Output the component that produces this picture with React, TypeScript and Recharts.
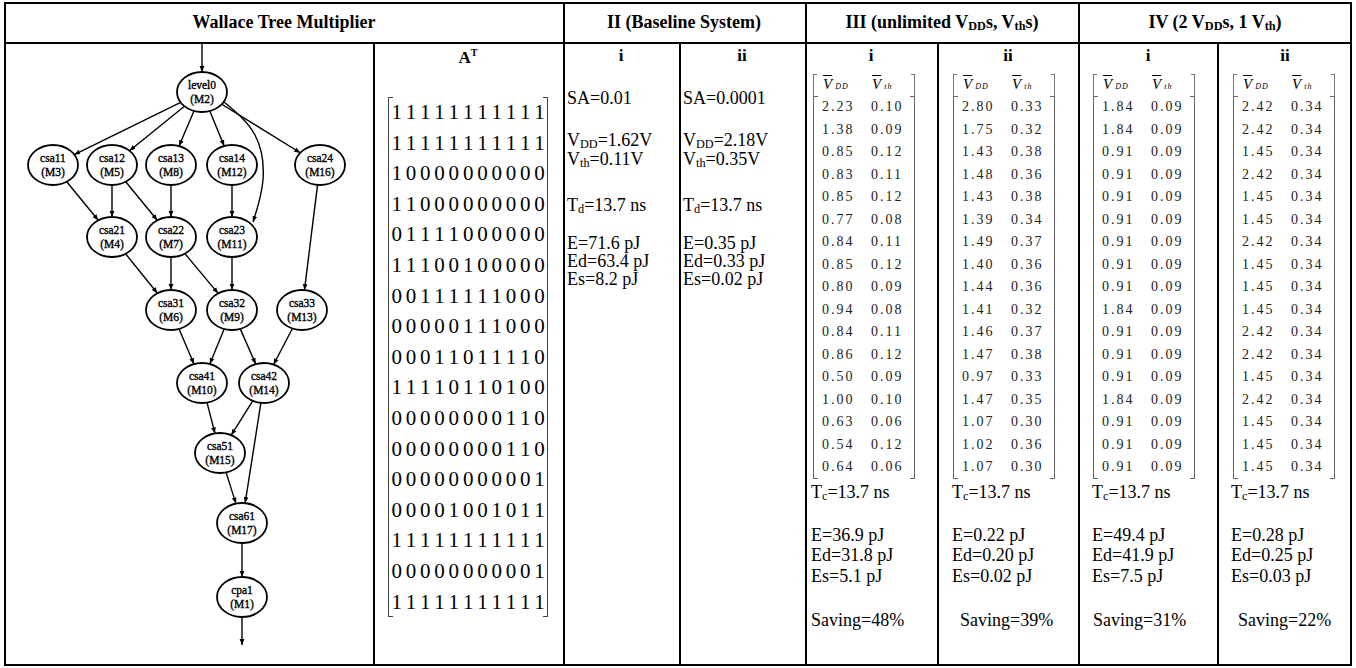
import React from "react";
import { ComposedChart, Line, Scatter, XAxis, YAxis } from "recharts";

// Wallace tree nodes (page coordinates of the tree cell)
const nodeNames = ["level0", "csa11", "csa12", "csa13", "csa14", "csa24", "csa21", "csa22", "csa23", "csa31", "csa32", "csa33", "csa41", "csa42", "csa51", "csa61", "cpa1"];
const nodeTags = ["M2", "M3", "M5", "M8", "M12", "M16", "M4", "M7", "M11", "M6", "M9", "M13", "M10", "M14", "M15", "M17", "M1"];
const nodeX = [202, 53, 112, 171, 232, 320, 112, 171, 232, 171, 232, 302, 202, 264, 220, 242, 242];
const nodeY = [92, 165, 165, 165, 165, 165, 237, 237, 237, 310, 310, 310, 383, 383, 453, 523, 597];

const edgeFrom = ["level0", "level0", "level0", "level0", "level0", "csa11", "csa12", "csa12", "csa13", "csa14", "csa24", "csa21", "csa22", "csa22", "csa23", "csa31", "csa32", "csa32", "csa33", "csa41", "csa42", "csa42", "csa51", "csa61"];
const edgeTo = ["csa11", "csa12", "csa13", "csa14", "csa24", "csa21", "csa21", "csa22", "csa22", "csa23", "csa33", "csa31", "csa31", "csa32", "csa32", "csa41", "csa41", "csa42", "csa42", "csa51", "csa51", "csa61", "csa61", "cpa1"];

// level0 -> csa23 bends out to the right
const bendX = [224, 255, 263, 253];
const bendY = [102, 135, 180, 222];

const inArrowY = [43, 72];
const outArrowY = [617, 645];

const aTransposeRows = [
  "11111111111",
  "11111111111",
  "10000000000",
  "11000000000",
  "01111000000",
  "11100100000",
  "00111111000",
  "00000111000",
  "00011011110",
  "11110110100",
  "00000000110",
  "00000000110",
  "00000000001",
  "00001001011",
  "11111111111",
  "00000000001",
  "11111111111",
];

const vddIIIi = ["2.23", "1.38", "0.85", "0.83", "0.85", "0.77", "0.84", "0.85", "0.80", "0.94", "0.84", "0.86", "0.50", "1.00", "0.63", "0.54", "0.64"];
const vthIIIi = ["0.10", "0.09", "0.12", "0.11", "0.12", "0.08", "0.11", "0.12", "0.09", "0.08", "0.11", "0.12", "0.09", "0.10", "0.06", "0.12", "0.06"];
const vddIIIii = ["2.80", "1.75", "1.43", "1.48", "1.43", "1.39", "1.49", "1.40", "1.44", "1.41", "1.46", "1.47", "0.97", "1.47", "1.07", "1.02", "1.07"];
const vthIIIii = ["0.33", "0.32", "0.38", "0.36", "0.38", "0.34", "0.37", "0.36", "0.36", "0.32", "0.37", "0.38", "0.33", "0.35", "0.30", "0.36", "0.30"];
const vddIVi = ["1.84", "1.84", "0.91", "0.91", "0.91", "0.91", "0.91", "0.91", "0.91", "1.84", "0.91", "0.91", "0.91", "1.84", "0.91", "0.91", "0.91"];
const vthIVi = ["0.09", "0.09", "0.09", "0.09", "0.09", "0.09", "0.09", "0.09", "0.09", "0.09", "0.09", "0.09", "0.09", "0.09", "0.09", "0.09", "0.09"];
const vddIVii = ["2.42", "2.42", "1.45", "2.42", "1.45", "1.45", "2.42", "1.45", "1.45", "1.45", "2.42", "2.42", "1.45", "2.42", "1.45", "1.45", "1.45"];
const vthIVii = ["0.34", "0.34", "0.34", "0.34", "0.34", "0.34", "0.34", "0.34", "0.34", "0.34", "0.34", "0.34", "0.34", "0.34", "0.34", "0.34", "0.34"];

const tcValue = "13.7 ns";
const energyIII = [["36.9", "31.8", "5.1"], ["0.22", "0.20", "0.02"]];
const energyIV = [["49.4", "41.9", "7.5"], ["0.28", "0.25", "0.03"]];
const savings = ["48%", "39%", "31%", "22%"];

const RX = 25;
const RY = 20;
const FONT = '"Liberation Serif", "Times New Roman", serif';
const BODY = 18;

const nodes = nodeNames.map((name, i) => ({ name, tag: nodeTags[i], x: nodeX[i], y: nodeY[i] }));
const byName = (n: string) => nodes[nodeNames.indexOf(n)];

function clipEllipse(ax: number, ay: number, bx: number, by: number) {
  const dx = bx - ax;
  const dy = by - ay;
  const t = 1 / Math.sqrt((dx / RX) ** 2 + (dy / RY) ** 2);
  return { x: ax + dx * t, y: ay + dy * t };
}

const edges = edgeFrom.map((f, i) => {
  const a = byName(f);
  const b = byName(edgeTo[i]);
  return [clipEllipse(a.x, a.y, b.x, b.y), clipEllipse(b.x, b.y, a.x, a.y)];
});
const bendEdge = bendX.map((x, i) => ({ x, y: bendY[i] }));
const inEdge = inArrowY.map((y) => ({ x: byName("level0").x, y }));
const outEdge = outArrowY.map((y) => ({ x: byName("cpa1").x, y }));

const NodeShape = (props: any) => {
  const { cx, cy, payload } = props;
  return (
    <g>
      <ellipse cx={cx} cy={cy} rx={RX} ry={RY} fill="#fff" stroke="#000" strokeWidth={1.8} />
      <text x={cx} y={cy - 3} textAnchor="middle" fontSize={11.5} fontFamily={FONT} fill="#000" stroke="#000" strokeWidth={0.35}>
        {payload.name}
      </text>
      <text x={cx} y={cy + 11} textAnchor="middle" fontSize={11.5} fontFamily={FONT} fill="#000" stroke="#000" strokeWidth={0.35}>
        ({payload.tag})
      </text>
    </g>
  );
};

function WallaceTree() {
  const lineProps = {
    dataKey: "y",
    stroke: "#000",
    strokeWidth: 1.4,
    dot: false,
    activeDot: false,
    isAnimationActive: false,
    markerEnd: "url(#arrowHead)",
  };
  return (
    <div style={{ position: "absolute", left: 5, top: 43 }}>
      <ComposedChart width={368} height={623} margin={{ top: 0, right: 0, bottom: 0, left: 0 }}>
        <XAxis type="number" dataKey="x" domain={[5, 373]} hide allowDataOverflow />
        <YAxis type="number" domain={[43, 666]} reversed hide allowDataOverflow />
        {edges.map((e, i) => (
          <Line key={i} data={e} type="linear" {...lineProps} />
        ))}
        <Line data={bendEdge} type="natural" {...lineProps} />
        <Line data={inEdge} type="linear" {...lineProps} />
        <Line data={outEdge} type="linear" {...lineProps} />
        <Scatter data={nodes} dataKey="y" shape={NodeShape} isAnimationActive={false} />
      </ComposedChart>
    </div>
  );
}

function Txt({ x, y, size = BODY, bold = false, children, center, width }: any) {
  return (
    <div
      style={{
        position: "absolute",
        left: center ? x - width / 2 : x,
        width: center ? width : undefined,
        top: y - size * 0.5,
        lineHeight: `${size}px`,
        fontSize: size,
        fontWeight: bold ? "bold" : "normal",
        textAlign: center ? "center" : "left",
        whiteSpace: "nowrap",
      }}
    >
      {children}
    </div>
  );
}

const Sub = ({ children }: any) => (
  <sub style={{ fontSize: "0.68em", verticalAlign: "-0.2em", lineHeight: 0 }}>{children}</sub>
);

function Bracket({ x, y, w, h, color = "#555", tick = 5, lw = 1.5 }: any) {
  const side = { position: "absolute" as const, top: y, height: h, width: tick, borderTop: `${lw}px solid ${color}`, borderBottom: `${lw}px solid ${color}`, boxSizing: "border-box" as const };
  return (
    <>
      <div style={{ ...side, left: x, borderLeft: `${lw}px solid ${color}` }} />
      <div style={{ ...side, left: x + w - tick, borderRight: `${lw}px solid ${color}` }} />
    </>
  );
}

function VMatrix({ x, vdd, vth }: any) {
  const rowTop = 107;
  const pitch = 22.5;
  const cell = { position: "absolute" as const, fontSize: 14, letterSpacing: 2, color: "#222", lineHeight: "18px" };
  return (
    <>
      <Bracket x={x} y={74} w={102} h={23} color="#777" tick={4} />
      <div style={{ position: "absolute", left: x + 10, top: 76, fontSize: 15, fontStyle: "italic" }}>
        <span style={{ textDecoration: "overline" }}>V</span>
        <span style={{ fontSize: 8, letterSpacing: 1, marginLeft: 3 }}>DD</span>
      </div>
      <div style={{ position: "absolute", left: x + 59, top: 76, fontSize: 15, fontStyle: "italic" }}>
        <span style={{ textDecoration: "overline" }}>V</span>
        <span style={{ fontSize: 8, letterSpacing: 1, marginLeft: 3 }}>th</span>
      </div>
      <Bracket x={x} y={rowTop - 11} w={102} h={pitch * 16 + 23} color="#666" tick={5} />
      {vdd.map((v: string, i: number) => (
        <React.Fragment key={i}>
          <div style={{ ...cell, left: x + 9, top: rowTop + i * pitch - 9 }}>{v}</div>
          <div style={{ ...cell, left: x + 58, top: rowTop + i * pitch - 9 }}>{vth[i]}</div>
        </React.Fragment>
      ))}
    </>
  );
}

function Results({ x, sx, e, saving }: any) {
  return (
    <>
      <Txt x={x} y={492}>T<Sub>c</Sub>={tcValue}</Txt>
      <Txt x={x} y={535}>E={e[0]} pJ</Txt>
      <Txt x={x} y={555}>Ed={e[1]} pJ</Txt>
      <Txt x={x} y={576}>Es={e[2]} pJ</Txt>
      <Txt x={sx} y={620}>Saving={saving}</Txt>
    </>
  );
}

const Rule = ({ x, y, w, h }: any) => (
  <div style={{ position: "absolute", left: x, top: y, width: w, height: h, background: "#000" }} />
);

export default function App() {
  const top = 2;
  const bottom = 666;
  const hdr = 42;
  const left = 4;
  const right = 1352;
  const fullV = [563, 805, 1078];
  const bodyV = [373, 679, 937, 1217];
  return (
    <div
      style={{
        position: "absolute",
        left: 0,
        top: 0,
        width: 1356,
        height: 668,
        background: "#fff",
        fontFamily: FONT,
        color: "#000",
        overflow: "hidden",
      }}
    >
      <svg width={0} height={0} style={{ position: "absolute" }}>
        <defs>
          <marker id="arrowHead" viewBox="0 0 10 10" refX={10} refY={5} markerWidth={6} markerHeight={6} markerUnits="userSpaceOnUse" orient="auto">
            <path d="M0,1 L10,5 L0,9 z" fill="#000" />
          </marker>
        </defs>
      </svg>

      <Rule x={left} y={top} w={right - left} h={2} />
      <Rule x={left} y={hdr} w={right - left} h={2} />
      <Rule x={left} y={bottom - 2} w={right - left} h={2} />
      <Rule x={left} y={top} w={2} h={bottom - top} />
      <Rule x={right - 2} y={top} w={2} h={bottom - top} />
      {fullV.map((x) => <Rule key={x} x={x} y={top} w={2} h={bottom - top} />)}
      {bodyV.map((x) => <Rule key={x} x={x} y={hdr} w={2} h={bottom - hdr} />)}

      <Txt x={284} y={22} size={18} bold center width={500}>Wallace Tree Multiplier</Txt>
      <Txt x={684} y={22} size={18} bold center width={240}>II (Baseline System)</Txt>
      <Txt x={942} y={22} size={18} bold center width={270}>III (unlimited V<Sub>DD</Sub>s, V<Sub>th</Sub>s)</Txt>
      <Txt x={1215} y={22} size={18} bold center width={270}>IV (2 V<Sub>DD</Sub>s, 1 V<Sub>th</Sub>)</Txt>

      <Txt x={468} y={57} size={17} bold center width={100}>A<sup style={{ fontSize: "0.6em", lineHeight: 0 }}>T</sup></Txt>
      <Txt x={621} y={55} size={17} bold center width={100}>i</Txt>
      <Txt x={742} y={55} size={17} bold center width={100}>ii</Txt>
      <Txt x={871} y={55} size={17} bold center width={100}>i</Txt>
      <Txt x={1008} y={55} size={17} bold center width={100}>ii</Txt>
      <Txt x={1148} y={55} size={17} bold center width={100}>i</Txt>
      <Txt x={1285} y={55} size={17} bold center width={100}>ii</Txt>

      <WallaceTree />

      <Bracket x={388} y={97} w={160} h={30.6 * 16 + 30} color="#444" tick={5} />
      {aTransposeRows.map((row, r) => (
        <div key={r} style={{ position: "absolute", left: 389.5, top: 112 + r * 30.6 - 11, display: "flex", fontSize: 21, lineHeight: "22px" }}>
          {row.split("").map((d, c) => (
            <span key={c} style={{ width: 14.3, textAlign: "center" }}>{d}</span>
          ))}
        </div>
      ))}

      <Txt x={567} y={98}>SA=0.01</Txt>
      <Txt x={567} y={140}>V<Sub>DD</Sub>=1.62V</Txt>
      <Txt x={567} y={159}>V<Sub>th</Sub>=0.11V</Txt>
      <Txt x={567} y={205}>T<Sub>d</Sub>=13.7 ns</Txt>
      <Txt x={567} y={243}>E=71.6 pJ</Txt>
      <Txt x={567} y={261}>Ed=63.4 pJ</Txt>
      <Txt x={567} y={279}>Es=8.2 pJ</Txt>

      <Txt x={683} y={98}>SA=0.0001</Txt>
      <Txt x={683} y={140}>V<Sub>DD</Sub>=2.18V</Txt>
      <Txt x={683} y={159}>V<Sub>th</Sub>=0.35V</Txt>
      <Txt x={683} y={205}>T<Sub>d</Sub>=13.7 ns</Txt>
      <Txt x={683} y={243}>E=0.35 pJ</Txt>
      <Txt x={683} y={261}>Ed=0.33 pJ</Txt>
      <Txt x={683} y={279}>Es=0.02 pJ</Txt>

      <VMatrix x={813} vdd={vddIIIi} vth={vthIIIi} />
      <VMatrix x={953} vdd={vddIIIii} vth={vthIIIii} />
      <VMatrix x={1093} vdd={vddIVi} vth={vthIVi} />
      <VMatrix x={1233} vdd={vddIVii} vth={vthIVii} />

      <Results x={811} sx={811} e={energyIII[0]} saving={savings[0]} />
      <Results x={952} sx={960} e={energyIII[1]} saving={savings[1]} />
      <Results x={1092} sx={1093} e={energyIV[0]} saving={savings[2]} />
      <Results x={1231} sx={1238} e={energyIV[1]} saving={savings[3]} />
    </div>
  );
}
